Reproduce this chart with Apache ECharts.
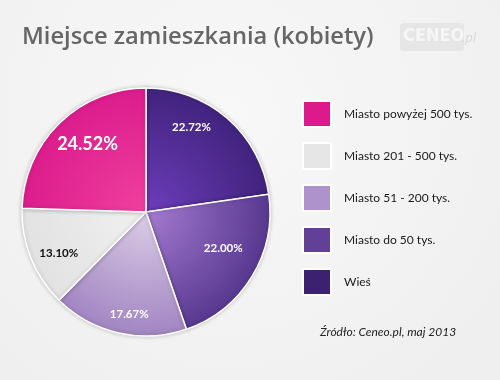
<!DOCTYPE html>
<html><head><meta charset="utf-8">
<script src="https://cdn.jsdelivr.net/npm/echarts@6/dist/echarts.min.js"></script>
<style>html,body{margin:0;padding:0;}#c{width:500px;height:380px;}</style>
</head><body><div id="c"></div>
<script>
var categories = ['Wieś', 'Miasto do 50 tys.', 'Miasto 51 - 200 tys.', 'Miasto 201 - 500 tys.', 'Miasto powyżej 500 tys.'];
var values = [22.72, 22.00, 17.67, 13.10, 24.52];
var legendOrder = ['Miasto powyżej 500 tys.', 'Miasto 201 - 500 tys.', 'Miasto 51 - 200 tys.', 'Miasto do 50 tys.', 'Wieś'];
var titleText = 'Miejsce zamieszkania (kobiety)';
var sourceText = 'Źródło: Ceneo.pl, maj 2013';

var CX = 146, CY = 212, R = 124;
var inner = ['#6d3dbb', '#a47bd0', '#dccde6', '#f0f0f0', '#f0409f'];
var outer = ['#41237d', '#57388f', '#a185c2', '#e2e2e2', '#dc1c8c'];
var legendCol = ['#dd1a8c', '#e6e6e6', '#ad92cb', '#634098', '#3b2170'];
var labelColor = ['#fff', '#fff', '#fff', '#111', '#fff'];
var labelSize = [11.5, 11.5, 11.5, 11.5, 18];
var labelShift = [[-16, -14], [-3, -13], [4, 11], [0, 6], [7, 0]];

function grad(i) {
  return { type: 'radial', x: CX, y: CY, r: R, global: true,
    colorStops: [{ offset: 0, color: inner[i] }, { offset: 1, color: outer[i] }] };
}

var chart = echarts.init(document.getElementById('c'), null, { renderer: 'canvas' });
var dataMain = categories.map(function (c, i) {
  return { name: c, value: values[i], itemStyle: { color: grad(i) } };
});
var dataLabel = categories.map(function (c, i) {
  return { name: c, value: values[i],
    label: { color: labelColor[i], fontSize: labelSize[i], offset: labelShift[i] } };
});

chart.setOption({
  backgroundColor: { type: 'radial', x: 0.45, y: 0.3, r: 0.9,
    colorStops: [{ offset: 0, color: '#f8f8f8' }, { offset: 1, color: '#efefef' }] },
  animation: false,
  legend: {
    orient: 'vertical', left: 302, top: 100, padding: 0, itemWidth: 28, itemHeight: 26, itemGap: 14,
    icon: 'rect', selectedMode: false,
    data: legendOrder.map(function (n, k) {
      return { name: n, itemStyle: { color: legendCol[k] } };
    }),
    textStyle: { fontFamily: 'Lato', fontSize: 12, color: '#1a1a1a', padding: [0, 0, 0, 8] }
  },
  graphic: [
    { type: 'text', left: 22, top: 25, style: { text: titleText, font: '600 23.7px "Open Sans"', fill: '#666' } },
    { type: 'rect', left: 400, top: 23, shape: { width: 64, height: 28, r: 3 }, style: { fill: '#e6e6e6' } },
    { type: 'text', left: 403, top: 27, style: { text: 'CENEO', font: 'bold 18px "DejaVu Sans Condensed"', fill: '#f6f6f6' } },
    { type: 'text', left: 462, top: 32, style: { text: '.pl', font: 'italic 13px "Open Sans"', fill: '#d8d8d8' } },
    { type: 'text', left: 320, top: 326, style: { text: sourceText, font: 'italic 12px "Lato"', fill: '#222' } }
  ],
  series: [
    {
      type: 'pie', center: [CX, CY], radius: [0, R], startAngle: 90, clockwise: true,
      silent: true, label: { show: false }, labelLine: { show: false },
      itemStyle: { borderColor: '#fff', borderWidth: 1.5, shadowBlur: 4, shadowColor: 'rgba(0,0,0,0.2)' },
      data: dataMain
    },
    {
      type: 'pie', center: [CX, CY], radius: [58, R], startAngle: 90, clockwise: true,
      silent: true, itemStyle: { color: 'rgba(0,0,0,0)' },
      label: { show: true, position: 'inside', fontFamily: 'Lato', fontWeight: 'bold',
        formatter: function (p) { return p.value.toFixed(2) + '%'; } },
      labelLine: { show: false },
      data: dataLabel
    }
  ]
});
</script></body></html>
